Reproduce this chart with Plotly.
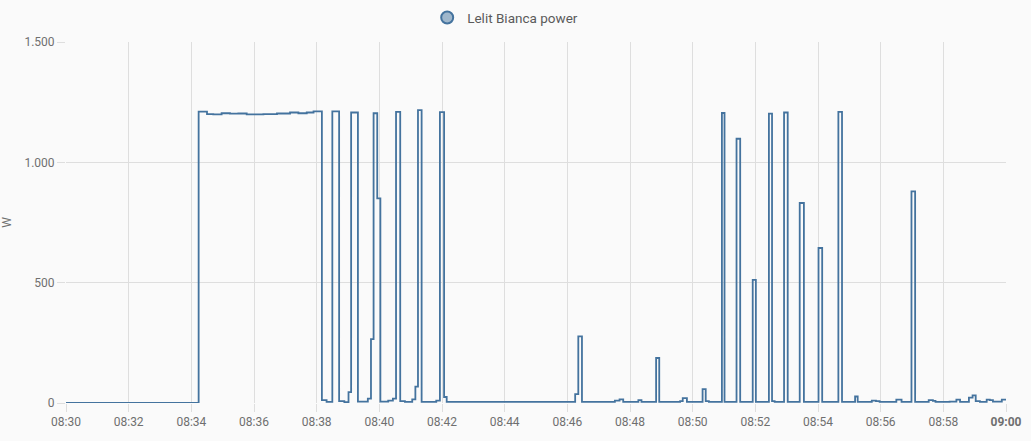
import plotly.graph_objects as go

DAY = "2024-01-01 "

times = [
    "08:30:00", "08:34:14", "08:34:30", "08:34:42", "08:34:58", "08:35:14", "08:35:30",
    "08:35:46", "08:36:18", "08:36:44", "08:37:09", "08:37:25", "08:37:41", "08:37:54",
    "08:38:10", "08:38:19", "08:38:30", "08:38:43", "08:38:53", "08:39:01", "08:39:06",
    "08:39:19", "08:39:38", "08:39:44", "08:39:49", "08:39:56", "08:40:02", "08:40:17",
    "08:40:26", "08:40:32", "08:40:40", "08:40:49", "08:41:03", "08:41:09", "08:41:14",
    "08:41:21", "08:41:49", "08:41:56", "08:42:04", "08:42:09", "08:46:09", "08:46:15",
    "08:46:21", "08:46:28", "08:47:31", "08:47:40", "08:47:47", "08:48:16", "08:48:22",
    "08:48:50", "08:48:56", "08:49:36", "08:49:41", "08:49:49", "08:50:19", "08:50:25",
    "08:50:31", "08:50:56", "08:51:01", "08:51:24", "08:51:31", "08:51:55", "08:52:01",
    "08:52:26", "08:52:32", "08:52:37", "08:52:55", "08:53:02", "08:53:25", "08:53:33",
    "08:54:01", "08:54:08", "08:54:39", "08:54:46", "08:55:11", "08:55:16", "08:55:43",
    "08:55:51", "08:55:58", "08:56:30", "08:56:40", "08:56:59", "08:57:06", "08:57:32",
    "08:57:40", "08:57:45", "08:58:12", "08:58:25", "08:58:32", "08:58:49", "08:58:56",
    "08:59:02", "08:59:10", "08:59:23", "08:59:29", "08:59:35", "08:59:52", "09:00:00",
]
power_w = [
    0, 1211, 1200, 1199, 1204, 1202, 1203,
    1199, 1200, 1203, 1207, 1204, 1207, 1212,
    12, 5, 1212, 8, 4, 45, 1207,
    6, 18, 265, 1204, 850, 6, 10,
    18, 1210, 8, 5, 15, 68, 1217,
    5, 10, 1209, 25, 5, 5, 37,
    277, 5, 10, 15, 5, 12, 5,
    187, 5, 8, 20, 5, 58, 8,
    5, 1205, 5, 1098, 5, 512, 5,
    1202, 8, 5, 1207, 5, 831, 5,
    644, 5, 1210, 5, 27, 5, 10,
    8, 5, 14, 5, 879, 5, 12,
    9, 5, 6, 14, 5, 22, 32,
    8, 5, 14, 12, 6, 14, 14,
]

x_tick_vals = ["08:30", "08:32", "08:34", "08:36", "08:38", "08:40", "08:42", "08:44",
               "08:46", "08:48", "08:50", "08:52", "08:54", "08:56", "08:58", "09:00"]
x_tick_text = x_tick_vals[:-1] + ["<b>09:00</b>"]
y_tick_vals = [0, 500, 1000, 1500]
y_tick_text = ["0", "500", "1.000", "1.500"]

series_name = "Lelit Bianca power"
line_color = "#44739e"
fill_color = "rgba(68,115,158,0.5)"
grid_color = "#dedede"
text_color = "#6f6f6f"

x = [DAY + t for t in times]

fig = go.Figure()
fig.add_trace(go.Scatter(
    x=x, y=power_w, mode="lines", line=dict(shape="hv", color=line_color, width=1.8),
    showlegend=False, name=series_name,
))
fig.add_trace(go.Scatter(
    x=[None], y=[None], mode="markers", name=series_name,
    marker=dict(symbol="circle", size=15, color=fill_color, line=dict(color=line_color, width=1.5)),
))

fig.update_layout(
    width=1031, height=441,
    paper_bgcolor="#fafafa", plot_bgcolor="#fafafa",
    margin=dict(l=66, r=25, t=42, b=38, autoexpand=False),
    font=dict(family="Roboto", size=12, color=text_color),
    showlegend=True,
    legend=dict(orientation="h", x=0.49, xanchor="center", xref="container",
                y=0.995, yanchor="top", yref="container",
                font=dict(size=13.5, color="#5a5a5a"), itemsizing="constant",
                bgcolor="rgba(0,0,0,0)"),
)
fig.update_xaxes(
    type="date", range=[DAY + "08:30:00", DAY + "09:00:00"],
    tickvals=[DAY + v for v in x_tick_vals], ticktext=x_tick_text,
    showgrid=True, gridcolor=grid_color, gridwidth=1,
    ticks="outside", ticklen=8, tickcolor=grid_color,
    showline=False, zeroline=False,
    tickfont=dict(size=12, color=text_color),
)
fig.update_yaxes(
    range=[0, 1500], tickvals=y_tick_vals, ticktext=y_tick_text,
    showgrid=True, gridcolor=grid_color, gridwidth=1,
    ticks="outside", ticklen=8, tickcolor=grid_color,
    showline=False, zeroline=False,
    title=dict(text="W", font=dict(size=12, color=text_color), standoff=14),
    tickfont=dict(size=12, color=text_color),
)

fig.write_html(
    "out.html",
    config={"displayModeBar": False},
    post_script="document.body.style.margin='0';document.body.style.background='#fafafa';",
)
